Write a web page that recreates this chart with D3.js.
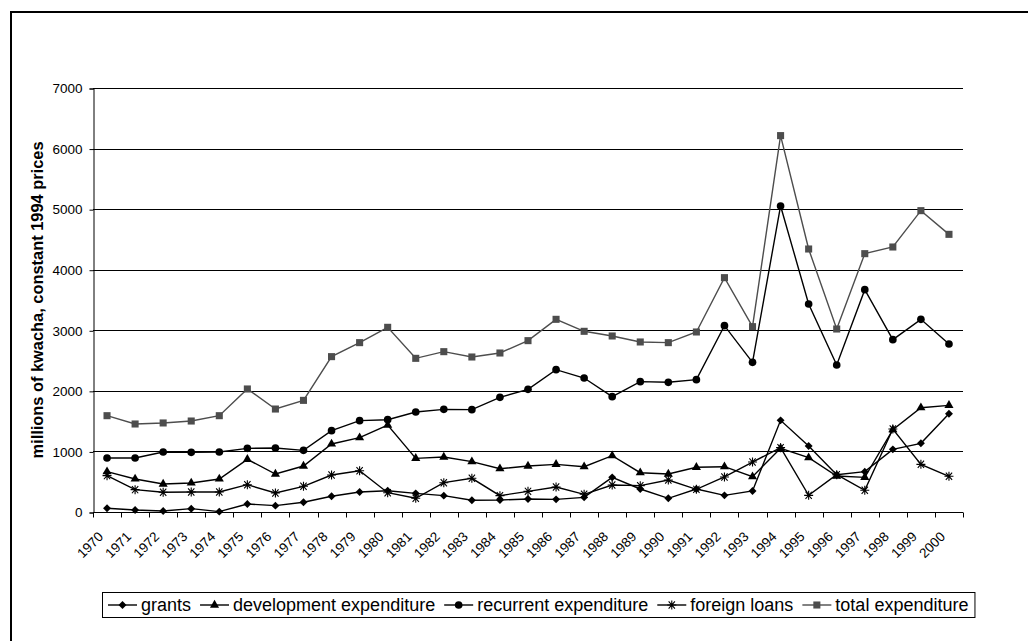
<!DOCTYPE html>
<html>
<head>
<meta charset="utf-8">
<script src="https://cdn.jsdelivr.net/npm/d3@7"></script>
<style>
  body { margin: 0; background: #fff; }
  svg text { font-family: "Liberation Sans", Arial, sans-serif; fill: #000; }
</style>
</head>
<body>
<div id="chart"></div>
<script>
// years on the category axis
const years = d3.range(1970, 2001).map(String);

// millions of kwacha, constant 1994 prices
const grants = [61, 33, 17, 55, 6, 132, 105, 160, 259, 330, 352, 308, 270, 193, 198,
  215, 209, 242, 572, 380, 226, 380, 275, 347, 1513, 1090, 616, 666, 1034, 1134, 1623];
const development = [666, 545, 462, 479, 545, 870, 627, 759, 1123, 1227, 1436, 886, 908, 831, 715,
  759, 787, 748, 930, 649, 627, 738, 748, 583, 1051, 897, 594, 572, 1359, 1722, 1761];
const recurrent = [891, 891, 990, 985, 990, 1051, 1057, 1018, 1343, 1508, 1524, 1651, 1695, 1690, 1893,
  2025, 2350, 2212, 1904, 2152, 2141, 2185, 3076, 2471, 5052, 3434, 2427, 3671, 2845, 3181, 2774];
const foreignLoans = [600, 369, 325, 330, 330, 451, 314, 424, 611, 682, 319, 226, 484, 556, 270,
  341, 413, 292, 446, 435, 528, 374, 578, 825, 1062, 275, 616, 358, 1370, 787, 589];
const total = [1590, 1453, 1470, 1502, 1590, 2031, 1700, 1843, 2565, 2796, 3049, 2537, 2647, 2559, 2625,
  2829, 3181, 2983, 2906, 2807, 2796, 2972, 3869, 3060, 6214, 4342, 3021, 4265, 4375, 4975, 4584];

const yTicks = [0, 1000, 2000, 3000, 4000, 5000, 6000, 7000];

const series = [
  { name: 'grants', values: grants, symbol: d3.symbolDiamond2, size: 40, color: '#000' },
  { name: 'development expenditure', values: development, symbol: d3.symbolTriangle, size: 36, color: '#000' },
  { name: 'recurrent expenditure', values: recurrent, symbol: d3.symbolCircle, size: 46, color: '#000' },
  { name: 'foreign loans', values: foreignLoans, symbol: 'star', size: 0, color: '#000' },
  { name: 'total expenditure', values: total, symbol: d3.symbolSquare, size: 50, color: '#4d4d4d' }
];

const W = 1028, H = 641;
const plotLeft = 93, plotRight = 963, plotTop = 88, plotBottom = 512;

const svg = d3.select('#chart').append('svg')
  .attr('width', W).attr('height', H);

// outer frame (runs off the right and bottom edge)
svg.append('rect')
  .attr('x', 11).attr('y', 12)
  .attr('width', W + 20).attr('height', H + 20)
  .attr('fill', 'none').attr('stroke', '#000').attr('stroke-width', 2);

const x = d3.scaleBand().domain(years).range([plotLeft, plotRight]);
const y = d3.scaleLinear().domain([0, 7000]).range([plotBottom, plotTop]);

// gridlines
svg.append('g').selectAll('line')
  .data(yTicks.filter(d => d > 0)).enter()
  .append('line')
  .attr('x1', plotLeft).attr('x2', plotRight)
  .attr('y1', d => Math.round(y(d)) + 0.5).attr('y2', d => Math.round(y(d)) + 0.5)
  .attr('stroke', '#000').attr('stroke-width', 1);

// y axis
const yAxis = svg.append('g')
  .attr('transform', 'translate(' + (plotLeft + 0.5) + ',0.5)')
  .call(d3.axisLeft(y).tickValues(yTicks).tickSize(4).tickPadding(7).tickFormat(d3.format('d')));
yAxis.selectAll('text').style('font-size', '13.5px').attr('fill', '#000');
yAxis.selectAll('line, path').attr('stroke', '#000');

// x axis: ticks between categories
const xAxis = svg.append('g')
  .attr('transform', 'translate(0,' + (plotBottom + 0.5) + ')');
xAxis.append('line')
  .attr('x1', plotLeft).attr('x2', plotRight).attr('stroke', '#000');
xAxis.selectAll('.tk')
  .data(years.concat(['end'])).enter()
  .append('line')
  .attr('x1', (d, i) => Math.round(plotLeft + i * x.bandwidth()) + 0.5)
  .attr('x2', (d, i) => Math.round(plotLeft + i * x.bandwidth()) + 0.5)
  .attr('y1', 0).attr('y2', 5)
  .attr('stroke', '#000');
xAxis.selectAll('text')
  .data(years).enter()
  .append('text')
  .attr('transform', d => 'translate(' + (x(d) + x.bandwidth() / 2 - 3) + ',25) rotate(-45)')
  .attr('text-anchor', 'end')
  .style('font-size', '13.5px')
  .text(d => d);

// y axis title
svg.append('text')
  .attr('transform', 'translate(37,' + ((plotTop + plotBottom) / 2) + ') rotate(-90)')
  .attr('text-anchor', 'middle')
  .attr('dy', '0.35em')
  .style('font-size', '16.4px').style('font-weight', 'bold')
  .text('millions of kwacha, constant 1994 prices');

function drawMarker(g, s) {
  if (s.symbol === 'star') {
    const r = 4.5;
    const p = 'M' + (-r) + ',0L' + r + ',0M' + (-r * 0.7) + ',' + (-r * 0.8) + 'L' + (r * 0.7) + ',' + (r * 0.8) +
      'M' + (-r * 0.7) + ',' + (r * 0.8) + 'L' + (r * 0.7) + ',' + (-r * 0.8) + 'M0,' + (-r) + 'L0,' + r;
    g.append('path').attr('d', p).attr('stroke', s.color).attr('stroke-width', 1.1).attr('fill', 'none');
  } else {
    g.append('path').attr('d', d3.symbol(s.symbol, s.size)()).attr('fill', s.color);
  }
}

const line = d3.line()
  .x((d, i) => x(years[i]) + x.bandwidth() / 2)
  .y(d => y(d));

series.forEach(s => {
  const g = svg.append('g');
  g.append('path')
    .attr('d', line(s.values))
    .attr('fill', 'none')
    .attr('stroke', s.color)
    .attr('stroke-width', 1.4);
  g.selectAll('g').data(s.values).enter()
    .append('g')
    .attr('transform', (d, i) => 'translate(' + (x(years[i]) + x.bandwidth() / 2) + ',' + y(d) + ')')
    .each(function () { drawMarker(d3.select(this), s); });
});

// legend
const legend = svg.append('g');
const box = legend.append('rect')
  .attr('fill', '#fff').attr('stroke', '#000').attr('stroke-width', 1);
let lx = 108;
const ly = 605;
let lastEnd = lx;
series.forEach(s => {
  const item = legend.append('g');
  item.append('line')
    .attr('x1', lx).attr('x2', lx + 29).attr('y1', ly).attr('y2', ly)
    .attr('stroke', s.color).attr('stroke-width', 1.4);
  const m = item.append('g').attr('transform', 'translate(' + (lx + 14.5) + ',' + ly + ')');
  drawMarker(m, s);
  const t = item.append('text')
    .attr('x', lx + 33).attr('y', ly).attr('dy', '0.35em')
    .style('font-size', '18px')
    .text(s.name);
  lastEnd = lx + 33 + t.node().getComputedTextLength();
  lx = lastEnd + 9;
});
box.attr('x', 102.5).attr('y', 592.5).attr('width', lastEnd + 6 - 102).attr('height', 25);
</script>
</body>
</html>
